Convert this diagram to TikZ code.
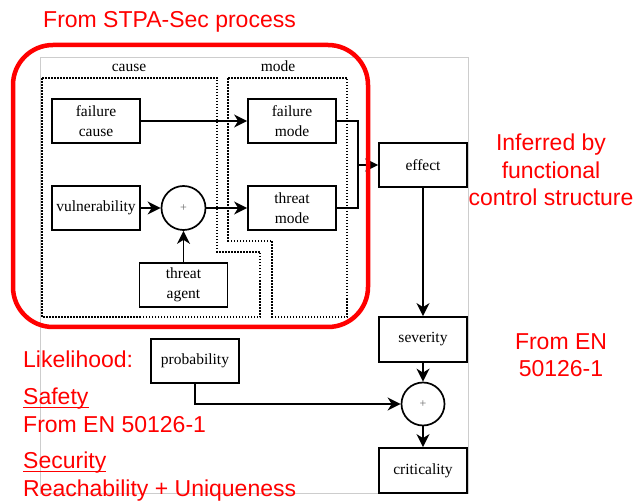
\documentclass[tikz,border=0pt]{standalone}
\usepackage{fontspec}
\setmainfont{Liberation Serif}
\newfontfamily\redsans{Liberation Sans}
\usetikzlibrary{arrows.meta}
\definecolor{frame}{RGB}{205,205,205}
\tikzset{
  blk/.style={draw=black, line width=1.8pt, minimum width=88pt, minimum height=44pt, inner sep=1pt, align=center, font=\fontsize{15.5}{19.5}\selectfont},
  sumnode/.style={circle, draw=black, line width=1.7pt, minimum size=44pt, inner sep=0pt, font=\fontsize{12}{12}\selectfont\color{black!60}},
  conn/.style={line width=1.8pt, draw=black},
  arr/.style={conn, -{Stealth[length=13pt,width=13pt,inset=4pt]}},
  region/.style={draw=black, line width=1.6pt, dash pattern=on 1.5pt off 1.5pt},
  redlbl/.style={text=red, font=\redsans\fontsize{23}{27.5}\selectfont, inner sep=0pt},
  reglbl/.style={font=\fontsize{15.5}{19}\selectfont, inner sep=0pt},
}
\begin{document}
\begin{tikzpicture}[x=1pt,y=-1pt]
\useasboundingbox (0,0) rectangle (637,502);
% background frame of original figure
\draw[frame, line width=0.8pt] (40,57) rectangle (468,493);
% dotted regions
\draw[region] (42,78) -- (217,78) -- (217,252) -- (260,252) -- (260,317) -- (42,317) -- cycle;
\draw[region] (228,78) -- (347,78) -- (347,317) -- (272,317) -- (272,241) -- (228,241) -- cycle;
\node[reglbl, anchor=base] (causelbl) at (129,72) {cause};
\node[reglbl, anchor=base] (modelbl) at (278,72) {mode};
% nodes
\node[blk] (fc) at (96,121) {failure\\cause};
\node[blk] (fm) at (292,121) {failure\\mode};
\node[blk] (vu) at (96,208) {vulnerability};
\node[sumnode] (p1) at (183.5,208) {+};
\node[blk] (tm) at (292,208) {threat\\mode};
\node[blk] (ta) at (183.5,285) {threat\\agent};
\node[blk] (ef) at (423,165) {effect};
\node[blk, minimum height=45pt] (sv) at (423,339.5) {severity};
\node[sumnode, minimum size=43pt] (p2) at (423,404) {+};
\node[blk, minimum height=45pt] (cr) at (423,470.5) {criticality};
\node[blk] (pr) at (195,361) {probability};
\coordinate (j) at (358,165);
% connectors
\draw[arr] (fc) -- (fm);
\draw[arr] (vu) -- (p1);
\draw[arr] (p1) -- (tm);
\draw[arr] (ta) -- (p1);
\draw[conn] (fm.east) -| (j);
\draw[conn] (tm.east) -| (j);
\draw[arr] (j) -- (ef.west);
\draw[arr] (ef) -- (sv);
\draw[arr] (sv) -- (p2);
\draw[arr] (p2) -- (cr);
\draw[arr] (pr.south) |- (p2.west);
% red annotations
\draw[red, line width=4.5pt, rounded corners=40pt] (13,45) rectangle (368,327);
\node[redlbl, anchor=base west] (stpa) at (43,28) {From STPA-Sec process};
\node[redlbl, anchor=base] (inf1) at (551,151) {Inferred by};
\node[redlbl, anchor=base] (inf2) at (551,178.5) {functional};
\node[redlbl, anchor=base] (inf3) at (551,206) {control structure};
\node[redlbl, anchor=base] (en1) at (561,350) {From EN};
\node[redlbl, anchor=base] (en2) at (561,377) {50126-1};
\node[redlbl, anchor=base west] (lik) at (23,368) {Likelihood:};
\node[redlbl, anchor=base west] (saf) at (23,404) {Safety};
\draw[red, line width=1.3pt] ([yshift=-3.5pt]saf.base west) -- ([yshift=-3.5pt]saf.base east);
\node[redlbl, anchor=base west] (saf2) at (23,432) {From EN 50126-1};
\node[redlbl, anchor=base west] (sec) at (23,468) {Security};
\draw[red, line width=1.3pt] ([yshift=-3.5pt]sec.base west) -- ([yshift=-3.5pt]sec.base east);
\node[redlbl, anchor=base west] (sec2) at (23,496) {Reachability + Uniqueness};
\end{tikzpicture}
\end{document}
